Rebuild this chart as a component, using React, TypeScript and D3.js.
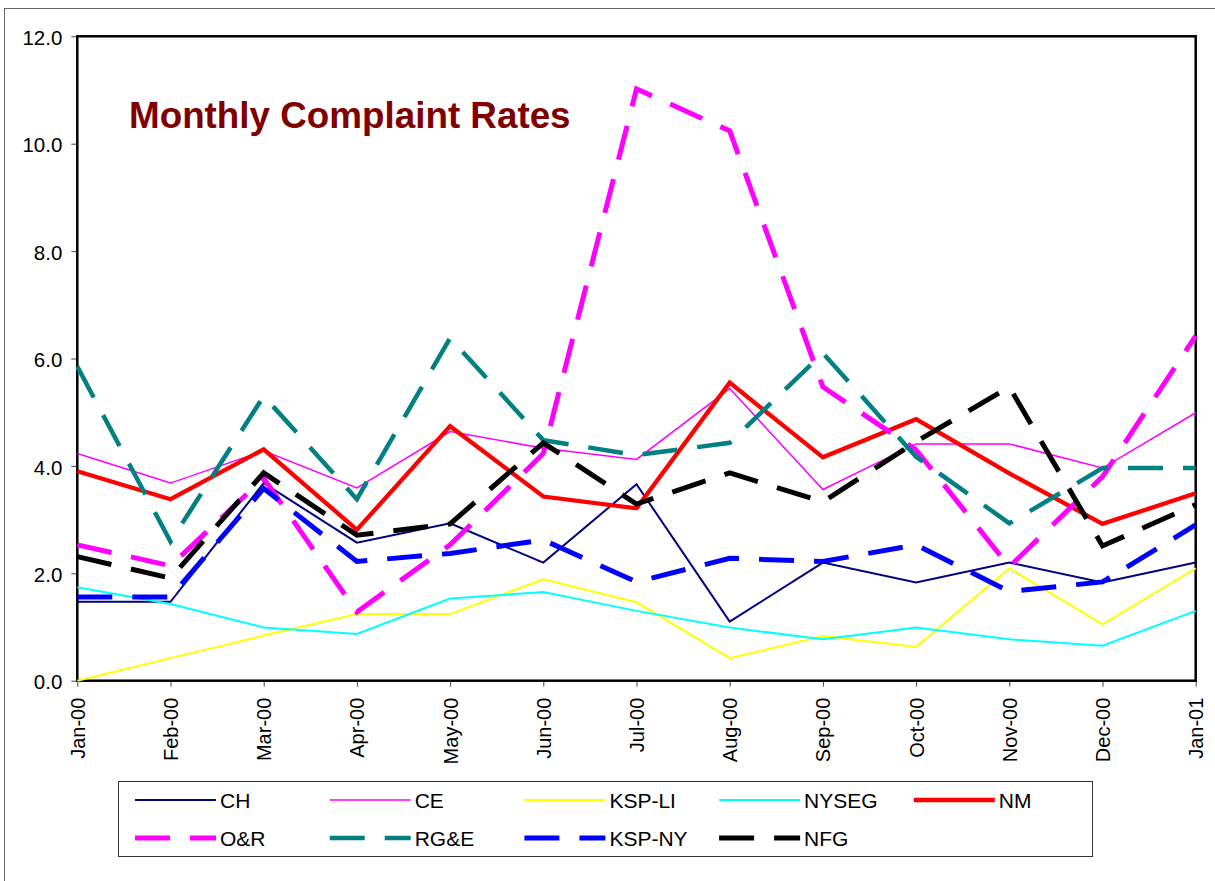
import React, { useRef, useEffect } from "react";
import * as d3 from "d3";

const months = [
  "Jan-00", "Feb-00", "Mar-00", "Apr-00", "May-00", "Jun-00", "Jul-00",
  "Aug-00", "Sep-00", "Oct-00", "Nov-00", "Dec-00", "Jan-01",
];
const yTicks = [0, 2, 4, 6, 8, 10, 12];

const ch = [1.47, 1.47, 3.68, 2.57, 2.93, 2.2, 3.66, 1.1, 2.2, 1.83, 2.2, 1.83, 2.2];
const ce = [4.23, 3.68, 4.28, 3.59, 4.64, 4.33, 4.12, 5.44, 3.56, 4.41, 4.41, 3.96, 4.99];
const kspLi = [0.0, 0.42, 0.84, 1.24, 1.24, 1.89, 1.46, 0.42, 0.83, 0.63, 2.09, 1.05, 2.09];
const nyseg = [1.74, 1.43, 0.99, 0.87, 1.53, 1.65, 1.3, 0.99, 0.77, 0.99, 0.77, 0.65, 1.3];
const nm = [3.9, 3.38, 4.31, 2.81, 4.74, 3.43, 3.21, 5.55, 4.16, 4.87, 3.86, 2.92, 3.49];
const oAndR = [2.53, 2.14, 3.77, 1.28, 2.53, 4.23, 11.02, 10.24, 5.47, 4.3, 2.12, 3.8, 6.42];
const rgAndE = [5.85, 2.59, 5.3, 3.38, 6.38, 4.48, 4.2, 4.43, 6.1, 4.17, 2.93, 3.96, 3.96];
const kspNy = [1.56, 1.56, 3.58, 2.22, 2.37, 2.62, 1.84, 2.28, 2.22, 2.53, 1.66, 1.84, 2.9];
const nfg = [2.31, 1.91, 3.87, 2.71, 2.92, 4.43, 3.29, 3.87, 3.33, 4.45, 5.47, 2.51, 3.28];

const seriesNames = ["CH", "CE", "KSP-LI", "NYSEG", "NM", "O&R", "RG&E", "KSP-NY", "NFG"];
const seriesValues = [ch, ce, kspLi, nyseg, nm, oAndR, rgAndE, kspNy, nfg];

const styles = [
  { color: "#000080", width: 2, dash: "" },
  { color: "#FF00FF", width: 1.5, dash: "" },
  { color: "#FFFF00", width: 2, dash: "" },
  { color: "#00FFFF", width: 2, dash: "" },
  { color: "#FF0000", width: 4.3, dash: "" },
  { color: "#FF00FF", width: 5, dash: "35,20" },
  { color: "#008080", width: 4.5, dash: "35,20" },
  { color: "#0000FF", width: 5, dash: "35,20" },
  { color: "#000000", width: 5, dash: "35,20" },
];

const FONT = "Arial, 'Liberation Sans', sans-serif";

const App = () => {
  const ref = useRef<SVGSVGElement | null>(null);

  useEffect(() => {
    if (!ref.current) return;
    const svg = d3.select(ref.current);
    svg.selectAll("*").remove();

    const left = 77.3;
    const right = 1195.7;
    const top = 36.3;
    const bottom = 680.7;

    // outer chart frame (runs off the page right and bottom)
    svg
      .append("rect")
      .attr("x", 4.5)
      .attr("y", 8.5)
      .attr("width", 1400)
      .attr("height", 1000)
      .attr("fill", "#fff")
      .attr("stroke", "#666")
      .attr("stroke-width", 1);

    const x = d3.scalePoint<string>().domain(months).range([left, right]);
    const y = d3.scaleLinear().domain([0, 12]).range([bottom, top]);

    // x axis ticks + rotated labels
    const xAxis = svg
      .append("g")
      .attr("transform", `translate(0,${bottom})`)
      .call(d3.axisBottom(x).tickSize(6).tickSizeOuter(0))
      .call((g) => g.select(".domain").remove());
    xAxis.selectAll(".tick line").attr("stroke", "#444").attr("stroke-width", 1);
    xAxis
      .selectAll(".tick text")
      .attr("transform", "translate(0,17) rotate(-90)")
      .attr("x", 0)
      .attr("y", 0)
      .attr("dy", "0.35em")
      .style("text-anchor", "end")
      .style("font-family", FONT)
      .style("font-size", "20px")
      .style("fill", "#000");

    // y axis
    const yAxis = svg
      .append("g")
      .attr("transform", `translate(${left},0)`)
      .call(
        d3
          .axisLeft(y)
          .tickValues(yTicks)
          .tickSize(6)
          .tickPadding(9)
          .tickFormat((d) => d3.format(".1f")(d as number))
      )
      .call((g) => g.select(".domain").remove());
    yAxis.selectAll(".tick line").attr("stroke", "#444").attr("stroke-width", 1);
    yAxis
      .selectAll(".tick text")
      .attr("dy", "0.4em")
      .style("font-family", FONT)
      .style("font-size", "20.5px")
      .style("fill", "#000");

    // plot area border
    svg
      .append("rect")
      .attr("x", left)
      .attr("y", top)
      .attr("width", right - left)
      .attr("height", bottom - top)
      .attr("fill", "none")
      .attr("stroke", "#000")
      .attr("stroke-width", 2.5);

    const line = d3
      .line<number>()
      .x((_, i) => x(months[i]) as number)
      .y((d) => y(d));

    const plot = svg.append("g");
    seriesValues.forEach((vals, i) => {
      plot
        .append("path")
        .datum(vals)
        .attr("d", line)
        .attr("fill", "none")
        .attr("stroke", styles[i].color)
        .attr("stroke-width", styles[i].width)
        .attr("stroke-dasharray", styles[i].dash || null)
        .attr("stroke-linejoin", "miter");
    });

    // title
    svg
      .append("text")
      .attr("x", 129)
      .attr("y", 128)
      .style("font-family", FONT)
      .style("font-weight", "bold")
      .style("font-size", "36.8px")
      .style("fill", "#800000")
      .text("Monthly Complaint Rates");

    // legend
    const legend = svg.append("g");
    legend
      .append("rect")
      .attr("x", 118.5)
      .attr("y", 781.5)
      .attr("width", 974)
      .attr("height", 75)
      .attr("fill", "#fff")
      .attr("stroke", "#333")
      .attr("stroke-width", 1);

    seriesNames.forEach((name, i) => {
      const col = i < 5 ? i : i - 5;
      const row = i < 5 ? 0 : 1;
      const lx = 135 + col * 194.7;
      const ly = row === 0 ? 800 : 838;
      legend
        .append("line")
        .attr("x1", lx)
        .attr("x2", lx + 81)
        .attr("y1", ly)
        .attr("y2", ly)
        .attr("stroke", styles[i].color)
        .attr("stroke-width", styles[i].width)
        .attr("stroke-dasharray", styles[i].dash || null);
      legend
        .append("text")
        .attr("x", lx + 85)
        .attr("y", ly)
        .attr("dy", "0.36em")
        .style("font-family", FONT)
        .style("font-size", "21px")
        .style("fill", "#000")
        .text(name);
    });
  }, []);

  return (
    <svg
      ref={ref}
      width={1215}
      height={881}
      style={{ position: "absolute", left: 0, top: 0, background: "#fff" }}
    />
  );
};

export default App;
